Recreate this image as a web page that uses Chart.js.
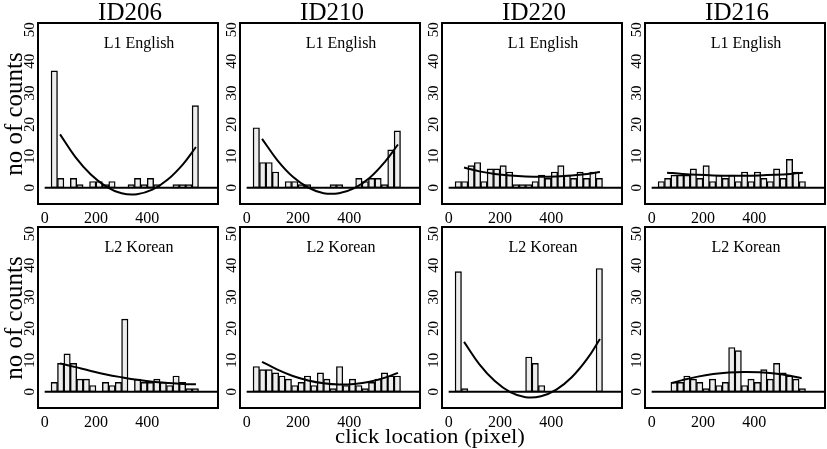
<!DOCTYPE html>
<html><head><meta charset="utf-8">
<script src="https://cdn.jsdelivr.net/npm/chart.js@4.4.1/dist/chart.umd.min.js"></script>
<style>
html,body{margin:0;padding:0;background:#fff;}
#wrap{position:relative;width:827px;height:449px;overflow:hidden;font-family:'Liberation Serif','Times New Roman',serif;}
#wrap canvas{position:absolute;}
.t{position:absolute;white-space:nowrap;color:#000;line-height:1;font-family:'Liberation Serif','Times New Roman',serif;}
</style></head><body><div id="wrap"></div>
<script>
// ---------- data ----------
const binCenters = [37.5, 62.5, 87.5, 112.5, 137.5, 162.5, 187.5, 212.5, 237.5, 262.5, 287.5, 312.5,
                    337.5, 362.5, 387.5, 412.5, 437.5, 462.5, 487.5, 512.5, 537.5, 562.5, 587.5];
const xTicks = [0, 200, 400];
const yTicks = [0, 10, 20, 30, 40, 50];
const speakers = ['ID206', 'ID210', 'ID220', 'ID216'];
const groups = ['L1 English', 'L2 Korean'];

const counts_ID206_L1 = [37, 3, 0, 3, 1, 0, 2, 2, 1, 2, 0, 0, 1, 3, 1, 3, 1, 0, 0, 1, 1, 1, 26];
const counts_ID210_L1 = [19, 8, 8, 5, 0, 2, 2, 1, 1, 0, 0, 0, 1, 1, 0, 0, 3, 2, 3, 3, 1, 12, 18];
const counts_ID220_L1 = [2, 2, 7, 8, 2, 6, 6, 7, 5, 1, 1, 1, 2, 4, 3, 5, 7, 4, 3, 5, 3, 5, 3];
const counts_ID216_L1 = [2, 3, 4, 4, 4, 6, 3, 7, 2, 4, 3, 4, 2, 5, 2, 5, 3, 2, 6, 3, 9, 5, 2];
const counts_ID206_L2 = [3, 9, 12, 9, 4, 4, 2, 0, 3, 2, 3, 23, 0, 4, 3, 3, 4, 3, 2, 5, 3, 1, 1];
const counts_ID210_L2 = [8, 7, 7, 6, 5, 4, 2, 3, 5, 2, 6, 4, 1, 8, 2, 4, 2, 1, 3, 4, 6, 5, 5];
const counts_ID220_L2 = [38, 1, 0, 0, 0, 0, 0, 0, 0, 0, 0, 11, 9, 2, 0, 0, 0, 0, 0, 0, 0, 0, 39];
const counts_ID216_L2 = [0, 0, 3, 3, 5, 4, 3, 1, 4, 2, 3, 14, 13, 2, 4, 3, 7, 4, 9, 6, 5, 4, 1];

// fitted curves
const curveX = [60, 120, 180, 240, 300, 360, 420, 480, 540, 590];
const curveX_ID216_L2 = [80, 120, 180, 240, 300, 360, 420, 480, 540, 585];
const fit_ID206_L1 = [16.9, 9.7, 4.2, 0.4, -1.7, -2.0, -0.6, 2.6, 7.5, 12.9];
const fit_ID210_L1 = [15.5, 8.7, 3.5, 0.1, -1.7, -1.7, -0.1, 3.2, 8.3, 13.7];
const fit_ID220_L1 = [6.4, 5.2, 4.4, 3.9, 3.6, 3.5, 3.6, 3.9, 4.4, 5.0];
const fit_ID216_L1 = [4.8, 4.4, 4.1, 3.9, 3.8, 3.8, 3.9, 4.1, 4.4, 4.8];
const fit_ID206_L2 = [9.0, 7.8, 6.6, 5.5, 4.6, 3.8, 3.2, 2.8, 2.5, 2.4];
const fit_ID210_L2 = [9.5, 7.0, 5.0, 3.6, 2.7, 2.3, 2.5, 3.2, 4.5, 6.0];
const fit_ID220_L2 = [15.8, 8.7, 3.4, -0.1, -1.7, -1.4, 0.7, 4.6, 10.4, 16.7];
const fit_ID216_L2 = [2.8, 3.7, 4.8, 5.6, 6.1, 6.3, 6.2, 5.8, 5.1, 4.3];

// ---------- layout ----------
const panels = [
  {row: 0, col: 0, counts: counts_ID206_L1, cx: curveX, cy: fit_ID206_L1},
  {row: 0, col: 1, counts: counts_ID210_L1, cx: curveX, cy: fit_ID210_L1},
  {row: 0, col: 2, counts: counts_ID220_L1, cx: curveX, cy: fit_ID220_L1},
  {row: 0, col: 3, counts: counts_ID216_L1, cx: curveX, cy: fit_ID216_L1},
  {row: 1, col: 0, counts: counts_ID206_L2, cx: curveX, cy: fit_ID206_L2},
  {row: 1, col: 1, counts: counts_ID210_L2, cx: curveX, cy: fit_ID210_L2},
  {row: 1, col: 2, counts: counts_ID220_L2, cx: curveX, cy: fit_ID220_L2},
  {row: 1, col: 3, counts: counts_ID216_L2, cx: curveX_ID216_L2, cy: fit_ID216_L2}
];
const colLeft = [38, 240, 442, 645];
const rowTop = [23, 227];
const boxW = 180, boxH = 181;
const PL = 36, PT = 12, PR = 4, PB = 26;
const X_MIN = -26, X_MAX = 676, Y_MIN = -5.12, Y_MAX = 52.12;
const SERIF = "'Liberation Serif','Times New Roman',serif";

const wrap = document.getElementById('wrap');

const boxPlugin = {
  id: 'boxPlugin',
  afterDraw(chart, args, opts) {
    const {ctx, chartArea: a, scales: {x, y}} = chart;
    ctx.save();
    ctx.strokeStyle = '#000';
    ctx.lineWidth = 2;
    ctx.strokeRect(a.left, a.top, a.right - a.left, a.bottom - a.top);
    ctx.font = "16px " + SERIF;
    ctx.textAlign = 'center';
    ctx.textBaseline = 'middle';
    ctx.fillStyle = '#000';
    ctx.fillText(opts.label, x.getPixelForValue(368), y.getPixelForValue(45.6));
    ctx.restore();
  }
};

function addText(txt, left, top, size, extra) {
  const d = document.createElement('div');
  d.className = 't';
  d.textContent = txt;
  d.style.left = left + 'px';
  d.style.top = top + 'px';
  d.style.fontSize = size + 'px';
  if (extra) d.style.transform = extra;
  wrap.appendChild(d);
  return d;
}

panels.forEach(p => {
  const cv = document.createElement('canvas');
  const W = PL + boxW + PR, H = PT + boxH + PB;
  cv.width = W; cv.height = H;
  cv.style.width = W + 'px'; cv.style.height = H + 'px';
  cv.style.left = (colLeft[p.col] - PL) + 'px';
  cv.style.top = (rowTop[p.row] - PT) + 'px';
  wrap.appendChild(cv);

  const barData = binCenters.map((c, i) => ({x: c, y: p.counts[i]}));
  const curveData = p.cx.map((c, i) => ({x: c, y: p.cy[i]}));

  new Chart(cv, {
    type: 'bar',
    data: {
      datasets: [
        {type: 'line', data: curveData, borderColor: '#000', borderWidth: 2, pointRadius: 0,
         tension: 0.4, fill: false, order: 0},
        {type: 'line', data: [{x: 0, y: 0}, {x: X_MAX, y: 0}], borderColor: '#000', borderWidth: 2,
         pointRadius: 0, fill: false, order: 1},
        {type: 'bar', data: barData, backgroundColor: '#ededed', borderColor: '#000',
         borderWidth: 1.4, borderSkipped: false, barPercentage: 1, categoryPercentage: 1, order: 2}
      ]
    },
    options: {
      responsive: false,
      animation: false,
      devicePixelRatio: 1,
      layout: {padding: {left: 0, top: PT, right: PR, bottom: 0}},
      plugins: {legend: {display: false}, tooltip: {enabled: false}, boxPlugin: {label: groups[p.row]}},
      scales: {
        x: {
          type: 'linear', min: X_MIN, max: X_MAX, offset: false,
          grid: {display: false, drawTicks: false}, border: {display: false},
          afterBuildTicks: s => { s.ticks = xTicks.map(v => ({value: v})); },
          afterFit: s => { s.height = PB; },
          ticks: {maxRotation: 0, padding: 5, color: '#000', font: {family: SERIF, size: 16}}
        },
        y: {
          min: Y_MIN, max: Y_MAX,
          grid: {display: false, drawTicks: false}, border: {display: false},
          afterBuildTicks: s => { s.ticks = yTicks.map(v => ({value: v})); },
          afterFit: s => { s.width = PL; },
          ticks: {minRotation: 90, maxRotation: 90, crossAlign: 'center', padding: 0,
                  color: '#000', font: {family: SERIF, size: 15}}
        }
      }
    },
    plugins: [boxPlugin]
  });
});

// titles and axis labels
speakers.forEach((s, i) => {
  addText(s, colLeft[i] + boxW / 2 + 2, -1, 25, 'translateX(-50%)');
});
[rowTop[0] + boxH / 2, rowTop[1] + boxH / 2].forEach(cy => {
  addText('no of counts', 12.5, cy, 25, 'translate(-50%,-50%) rotate(-90deg)');
});
addText('click location (pixel)', 430, 426, 20, 'translateX(-50%) scaleX(1.14)');
</script></body></html>
